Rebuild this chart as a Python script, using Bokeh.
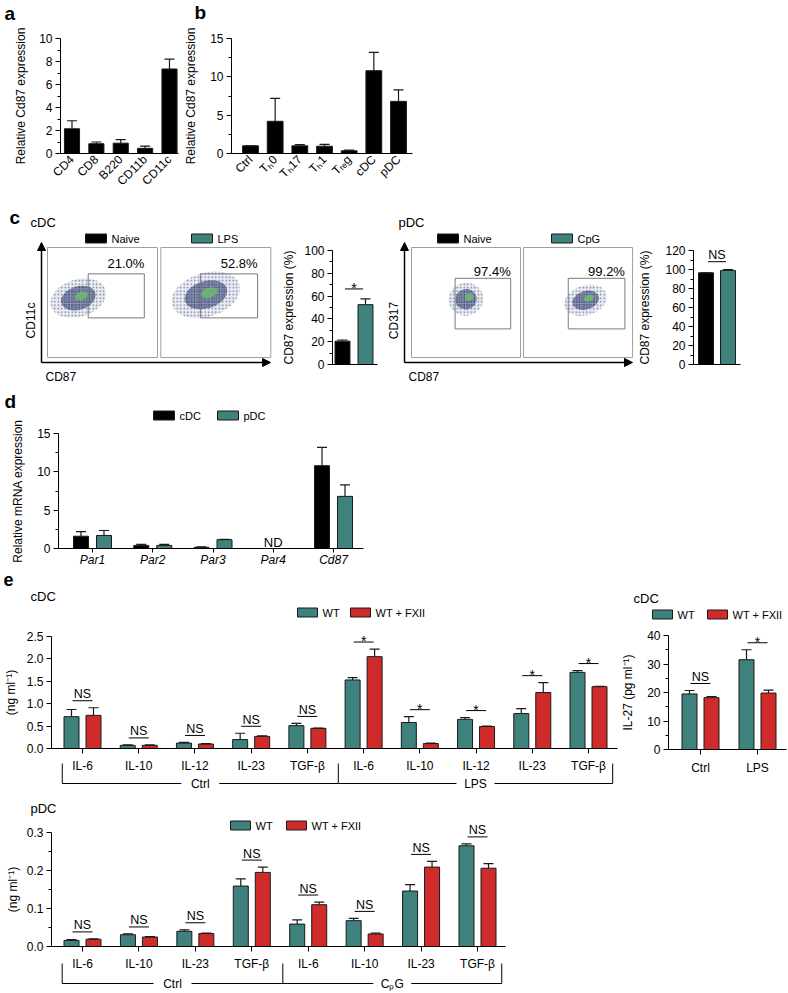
import math
from bokeh.plotting import figure
from bokeh.models import (Range1d, FixedTicker, Arrow, NormalHead,
                          NumeralTickFormatter)
from bokeh.layouts import row, column
from bokeh.embed import file_html
from bokeh.resources import INLINE
from bokeh.core.properties import value

FONT = "Liberation Sans"
TEAL = "#3f817d"
RED = "#d02b2b"
BLACK = "#000000"
EDGE = "#1a1a1a"
NAN = float("nan")

# ---------------- data ----------------
# panel a
a_cats = ["CD4", "CD8", "B220", "CD11b", "CD11c"]
a_vals = [2.15, 0.85, 0.9, 0.45, 7.35]
a_errs = [0.7, 0.15, 0.3, 0.2, 0.85]
a_yticks = [0, 2, 4, 6, 8, 10]
a_yminor = [1, 3, 5, 7, 9]

# panel b
b_cats = ["Ctrl", "Tₕ0", "Tₕ17", "Tₕ1", "Tᵣₑg", "cDC", "pDC"]
b_vals = [1.0, 4.2, 1.0, 0.95, 0.35, 10.8, 6.8]
b_errs = [0.0, 3.0, 0.15, 0.25, 0.1, 2.4, 1.5]
b_yticks = [0, 5, 10, 15]
b_yminor = [2.5, 7.5, 12.5]

# panel c (flow plots, schematic in relative units 0..1 per plot)
c_cdc_groups = ["Naive", "LPS"]
c_cdc_offsets = [0.0, 1.03]
c_cdc_pct = ["21.0%", "52.8%"]
c_cdc_gate_l = [0.37, 0.36]
c_cdc_gate_r = [0.88, 0.88]
c_cdc_gate_b = [0.36, 0.36]
c_cdc_gate_t = [0.76, 0.76]
c_cdc_cloud_x = [0.28, 0.41]
c_cdc_cloud_y = [0.54, 0.57]
c_cdc_cloud_w = [0.52, 0.64]
c_cdc_cloud_h = [0.34, 0.40]
c_cdc_bar = [20.5, 52.5]
c_cdc_err = [1.0, 5.0]
c_cdc_sig = "*"

c_pdc_groups = ["Naive", "CpG"]
c_pdc_offsets = [0.0, 1.028]
c_pdc_pct = ["97.4%", "99.2%"]
c_pdc_gate_l = [0.40, 0.41]
c_pdc_gate_r = [0.91, 0.93]
c_pdc_gate_b = [0.26, 0.26]
c_pdc_gate_t = [0.72, 0.72]
c_pdc_cloud_x = [0.50, 0.57]
c_pdc_cloud_y = [0.53, 0.52]
c_pdc_cloud_w = [0.32, 0.40]
c_pdc_cloud_h = [0.30, 0.27]
c_pdc_bar = [96.5, 99.0]
c_pdc_err = [0.0, 0.8]
c_pdc_sig = "NS"

c_yticks_cdc = [0, 20, 40, 60, 80, 100]
c_yminor_cdc = [10, 30, 50, 70, 90]
c_yticks_pdc = [0, 20, 40, 60, 80, 100, 120]
c_yminor_pdc = [10, 30, 50, 70, 90, 110]

# panel d
d_cats = ["Par1", "Par2", "Par3", "Par4", "Cd87"]
d_series = ["cDC", "pDC"]
d_cdc = [1.6, 0.4, 0.15, NAN, 10.8]
d_cdc_err = [0.6, 0.15, 0.08, NAN, 2.4]
d_pdc = [1.7, 0.4, 1.15, NAN, 6.8]
d_pdc_err = [0.65, 0.15, 0.05, NAN, 1.5]
d_yticks = [0, 5, 10, 15]
d_yminor = [2.5, 7.5, 12.5]

# panel e (cDC)
e_series = ["WT", "WT + FXII"]
e_cdc_cats = ["IL-6", "IL-10", "IL-12", "IL-23", "TGF-β",
              "IL-6", "IL-10", "IL-12", "IL-23", "TGF-β"]
e_cdc_groups = ["Ctrl", "LPS"]
e_cdc_wt = [0.71, 0.07, 0.12, 0.20, 0.51, 1.53, 0.58, 0.65, 0.78, 1.70]
e_cdc_wt_err = [0.16, 0.01, 0.015, 0.14, 0.05, 0.05, 0.13, 0.04, 0.11, 0.04]
e_cdc_fx = [0.74, 0.07, 0.10, 0.27, 0.45, 2.05, 0.11, 0.49, 1.25, 1.38]
e_cdc_fx_err = [0.17, 0.01, 0.01, 0.015, 0.005, 0.17, 0.01, 0.01, 0.22, 0.01]
e_cdc_sig = ["NS", "NS", "NS", "NS", "NS", "*", "*", "*", "*", "*"]
e_cdc_yticks = [0, 0.5, 1.0, 1.5, 2.0, 2.5]

# panel e (IL-27)
e_il27_cats = ["Ctrl", "LPS"]
e_il27_wt = [19.5, 31.5]
e_il27_wt_err = [1.2, 3.5]
e_il27_fx = [18.2, 19.8]
e_il27_fx_err = [0.4, 1.0]
e_il27_sig = ["NS", "*"]
e_il27_yticks = [0, 10, 20, 30, 40]
e_il27_yminor = [5, 15, 25, 35]

# panel e (pDC)
e_pdc_cats = ["IL-6", "IL-10", "IL-23", "TGF-β", "IL-6", "IL-10", "IL-23", "TGF-β"]
e_pdc_groups = ["Ctrl", "CₚG"]
e_pdc_wt = [0.016, 0.031, 0.040, 0.159, 0.059, 0.068, 0.146, 0.265]
e_pdc_wt_err = [0.002, 0.002, 0.004, 0.019, 0.011, 0.006, 0.017, 0.005]
e_pdc_fx = [0.019, 0.025, 0.034, 0.195, 0.110, 0.033, 0.209, 0.206]
e_pdc_fx_err = [0.001, 0.001, 0.001, 0.014, 0.007, 0.002, 0.015, 0.012]
e_pdc_sig = ["NS"] * 8
e_pdc_yticks = [0, 0.1, 0.2, 0.3]
e_pdc_yminor = [0.05, 0.15, 0.25]


# ---------------- helpers ----------------
class Panel:
    """A figure covering an image-pixel box; data ranges calibrated from two
    (value, pixel) pairs per axis so that the whole figure is the frame."""

    def __init__(self, x0, x1, y0, y1, xa, xb, ya, yb):
        self.x0, self.x1, self.y0, self.y1 = x0, x1, y0, y1
        (vxa, pxa), (vxb, pxb) = xa, xb
        (vya, pya), (vyb, pyb) = ya, yb
        self.vxa, self.pxa, self.sx = vxa, pxa, (pxb - pxa) / (vxb - vxa)
        self.vya, self.pya, self.sy = vya, pya, (pyb - pya) / (vyb - vya)
        p = figure(width=x1 - x0, height=y1 - y0,
                   x_range=Range1d(self.vx(x0), self.vx(x1)),
                   y_range=Range1d(self.vy(y1), self.vy(y0)),
                   output_backend="svg", toolbar_location=None, min_border=0)
        p.outline_line_color = None
        p.grid.visible = False
        p.xaxis.visible = False
        p.yaxis.visible = False
        p.background_fill_color = "white"
        p.border_fill_color = "white"
        self.p = p

    def vx(self, px):
        return self.vxa + (px - self.pxa) / self.sx

    def vy(self, py):
        return self.vya + (py - self.pya) / self.sy

    def dx(self, d):
        return d / self.sx

    def dy(self, d):
        return -d / self.sy


def style_axis(ax, label_standoff=3, axis_label_standoff=6):
    ax.visible = True
    ax.axis_line_color = "black"
    ax.axis_line_width = 1
    ax.major_tick_line_color = "black"
    ax.major_tick_in = 0
    ax.major_tick_out = 5
    ax.minor_tick_line_color = "black"
    ax.minor_tick_in = 0
    ax.minor_tick_out = 3
    ax.major_label_text_font = FONT
    ax.major_label_text_font_size = "12px"
    ax.major_label_text_color = "black"
    ax.major_label_standoff = label_standoff
    ax.axis_label_text_font = FONT
    ax.axis_label_text_font_size = "12px"
    ax.axis_label_text_font_style = "normal"
    ax.axis_label_text_color = "black"
    ax.axis_label_standoff = axis_label_standoff


def y_axis(P, axis_px, ticks, minor, label, fmt=None, ax_standoff=6):
    ax = P.p.yaxis[0]
    style_axis(ax, 3, ax_standoff)
    ax.fixed_location = P.vx(axis_px)
    ax.bounds = (ticks[0], ticks[-1])
    ax.ticker = FixedTicker(ticks=ticks, minor_ticks=minor)
    if fmt:
        ax.formatter = NumeralTickFormatter(format=fmt)
    ax.axis_label = label


def x_axis(P, ticks, labels, left_px, right_px, tick_out=5, standoff=5,
           orient=None, italic=False):
    ax = P.p.xaxis[0]
    style_axis(ax, standoff)
    ax.fixed_location = 0
    ax.bounds = (P.vx(left_px), P.vx(right_px))
    ax.ticker = FixedTicker(ticks=ticks, minor_ticks=[])
    ax.major_label_overrides = {t: l for t, l in zip(ticks, labels)}
    ax.major_tick_out = tick_out
    if orient is not None:
        ax.major_label_orientation = orient
    if italic:
        ax.major_label_text_font_style = "italic"


def bars(P, xs, tops, errs, color, width, cap_px=5):
    keep = [i for i, t in enumerate(tops) if not math.isnan(t)]
    cols = color if isinstance(color, list) else [color] * len(tops)
    xs = [xs[i] for i in keep]
    tops = [tops[i] for i in keep]
    errs = [errs[i] for i in keep]
    cols = [cols[i] for i in keep]
    P.p.vbar(x=xs, top=tops, bottom=0, width=width, fill_color=cols,
             line_color=EDGE, line_width=1)
    ups = [t + e for t, e in zip(tops, errs)]
    P.p.segment(x0=xs, y0=tops, x1=xs, y1=ups, line_color=EDGE, line_width=1.2)
    cw = P.dx(cap_px)
    P.p.segment(x0=[x - cw for x in xs], y0=ups, x1=[x + cw for x in xs],
                y1=ups, line_color=EDGE, line_width=1.2)


def sig_marks(P, centers, heights, labels, gap_px=7, half_px=10):
    ly = [h + P.dy(gap_px) for h in heights]
    hw = P.dx(half_px)
    P.p.segment(x0=[c - hw for c in centers], y0=ly, x1=[c + hw for c in centers],
                y1=ly, line_color="black", line_width=1)
    ns = [i for i, l in enumerate(labels) if l != "*"]
    st = [i for i, l in enumerate(labels) if l == "*"]
    if ns:
        P.p.text(x=[centers[i] for i in ns], y=[ly[i] + P.dy(6.5) for i in ns],
                 text=[labels[i] for i in ns], text_font=value(FONT),
                 text_font_size="12.5px", text_align="center",
                 text_baseline="middle", text_color="black")
    if st:
        P.p.text(x=[centers[i] for i in st], y=[ly[i] + P.dy(1) for i in st],
                 text=[labels[i] for i in st], text_font=value(FONT),
                 text_font_size="14px", text_align="center",
                 text_baseline="middle", text_color="black")


def legend(P, labels, colors, lefts_px, cy_px, gw=20, gh=9, size="11px", standoff=5):
    P.p.quad(left=[P.vx(l) for l in lefts_px], right=[P.vx(l + gw) for l in lefts_px],
             bottom=[P.vy(cy_px + gh / 2)] * len(lefts_px),
             top=[P.vy(cy_px - gh / 2)] * len(lefts_px),
             fill_color=colors, line_color=EDGE, line_width=1)
    P.p.text(x=[P.vx(l + gw + standoff) for l in lefts_px], y=[P.vy(cy_px)] * len(lefts_px),
             text=labels, text_font=value(FONT), text_font_size=size,
             text_align="left", text_baseline="middle", text_color="black")


def txt(P, px, py, s, size="12px", align="left", baseline="middle",
        style="normal", angle=0):
    P.p.text(x=[P.vx(px)], y=[P.vy(py)], text=[s], text_font=value(FONT),
             text_font_size=size, text_align=align, text_baseline=baseline,
             text_font_style=style, angle=angle, text_color="black")


def brackets(P, groups, firsts, lasts, top_px, bot_px, half_gap_px=19):
    edges = [firsts[0] - 0.36]
    for i in range(len(groups) - 1):
        edges.append((lasts[i] + firsts[i + 1]) / 2 + 0.05)
    edges.append(lasts[-1] + 0.43)
    yt, yb = P.vy(top_px), P.vy(bot_px)
    P.p.segment(x0=edges, y0=[yt] * len(edges), x1=edges, y1=[yb] * len(edges),
                line_color="black", line_width=1)
    mids = [(edges[i] + edges[i + 1]) / 2 for i in range(len(groups))]
    g = P.dx(half_gap_px)
    hx0, hx1 = [], []
    for i in range(len(groups)):
        hx0 += [edges[i], mids[i] + g]
        hx1 += [mids[i] - g, edges[i + 1]]
    P.p.segment(x0=hx0, y0=[yb] * len(hx0), x1=hx1, y1=[yb] * len(hx0),
                line_color="black", line_width=1)
    P.p.text(x=mids, y=[yb] * len(mids), text=groups, text_font=value(FONT),
             text_font_size="12px", text_align="center", text_baseline="middle",
             text_color="black")


def flow(P, offsets, gl, gr, gb, gt, pct, cx, cy, cw, ch, pct_px):
    n = len(offsets)
    P.p.quad(left=offsets, right=[o + 1 for o in offsets], bottom=[0] * n,
             top=[1] * n, fill_color=None, line_color="#a0a0a0", line_width=1)
    xs = [o + c for o, c in zip(offsets, cx)]
    P.p.ellipse(x=xs, y=cy, width=cw, height=ch, angle=0.3,
                fill_color="#d4d7e2", fill_alpha=0.45, line_color=None,
                hatch_pattern="dot", hatch_color="#56608c", hatch_scale=3.5,
                hatch_weight=1, hatch_alpha=0.8)
    P.p.ellipse(x=xs, y=cy, width=[w * 0.62 for w in cw],
                height=[h * 0.62 for h in ch], angle=0.3,
                fill_color="#3c4b80", fill_alpha=0.55, line_color=None,
                hatch_pattern="dot", hatch_color="#1d2752", hatch_scale=2.5,
                hatch_weight=1, hatch_alpha=0.9)
    P.p.ellipse(x=[x + 0.03 for x in xs], y=[y + 0.02 for y in cy],
                width=[w * 0.24 for w in cw], height=[h * 0.22 for h in ch],
                angle=0.3, fill_color="#6cbf6c", fill_alpha=0.8, line_color=None)
    P.p.quad(left=[o + v for o, v in zip(offsets, gl)],
             right=[o + v for o, v in zip(offsets, gr)], bottom=gb, top=gt,
             fill_color=None, line_color="#7a7a7a", line_width=1)
    P.p.text(x=[o + v for o, v in zip(offsets, gr)],
             y=[t + P.dy(pct_px) for t in gt], text=pct, text_font=value(FONT),
             text_font_size="13px", text_align="right",
             text_baseline="middle", text_color="black")


def axes_arrows(P, ox_px, oy_px, xend_px, yend_px):
    head = dict(size=8, line_color="black", fill_color="black")
    P.p.add_layout(Arrow(end=NormalHead(**head), x_start=P.vx(ox_px),
                         y_start=P.vy(oy_px), x_end=P.vx(xend_px),
                         y_end=P.vy(oy_px), line_width=1.5, line_color="black"))
    P.p.add_layout(Arrow(end=NormalHead(**head), x_start=P.vx(ox_px),
                         y_start=P.vy(oy_px), x_end=P.vx(ox_px),
                         y_end=P.vy(yend_px), line_width=1.5, line_color="black"))


LETTER = dict(size="19px", style="bold")

# ---------------- panel a ----------------
A = Panel(0, 180, 0, 198, (0, 71.5), (4, 169), (0, 153), (10, 38))
ax_idx = list(range(len(a_cats)))
bars(A, ax_idx, a_vals, a_errs, BLACK, 0.62)
y_axis(A, 60, a_yticks, a_yminor, "Relative Cd87 expression", ax_standoff=8)
x_axis(A, ax_idx, a_cats, 60, 178, tick_out=0, standoff=4, orient=math.pi / 4)
txt(A, 4, 13, "a", **LETTER)

# ---------------- panel b ----------------
B = Panel(180, 430, 0, 198, (0, 250), (6, 398), (0, 153), (15, 38))
bx_idx = list(range(len(b_cats)))
bars(B, bx_idx, b_vals, b_errs, BLACK, 0.64)
y_axis(B, 231, b_yticks, b_yminor, "Relative Cd87 expression", ax_standoff=9)
x_axis(B, bx_idx, b_cats, 231, 412, tick_out=0, standoff=4, orient=math.pi / 4)
txt(B, 194, 12, "b", **LETTER)

# ---------------- panel c : cDC flow ----------------
C1 = Panel(0, 278, 198, 390, (0, 47), (1, 157), (0, 357), (1, 247))
flow(C1, c_cdc_offsets, c_cdc_gate_l, c_cdc_gate_r, c_cdc_gate_b, c_cdc_gate_t,
     c_cdc_pct, c_cdc_cloud_x, c_cdc_cloud_y, c_cdc_cloud_w, c_cdc_cloud_h, 10)
axes_arrows(C1, 41, 362, 270, 242)
txt(C1, 9, 217, "c", **LETTER)
txt(C1, 30, 222, "cDC", size="13px")
txt(C1, 45, 376, "CD87", size="12px")
txt(C1, 30, 320, "CD11c", size="12px", align="center", angle=math.pi / 2)
legend(C1, c_cdc_groups, [BLACK, TEAL], [85, 191], 238, gw=21)

# ---------------- panel c : cDC bar ----------------
C2 = Panel(278, 385, 198, 390, (0, 342), (1, 365), (0, 364), (100, 250))
bars(C2, [0, 1], c_cdc_bar, c_cdc_err, [BLACK, TEAL], 0.65)
y_axis(C2, 332, c_yticks_cdc, c_yminor_cdc, "CD87 expression (%)", ax_standoff=5)
x_axis(C2, [], [], 332, 377)
sig_marks(C2, [0.5], [max(v + e for v, e in zip(c_cdc_bar, c_cdc_err))],
          [c_cdc_sig], gap_px=10, half_px=9)

# ---------------- panel c : pDC flow ----------------
C3 = Panel(385, 635, 198, 390, (0, 411), (1, 520), (0, 357), (1, 247))
flow(C3, c_pdc_offsets, c_pdc_gate_l, c_pdc_gate_r, c_pdc_gate_b, c_pdc_gate_t,
     c_pdc_pct, c_pdc_cloud_x, c_pdc_cloud_y, c_pdc_cloud_w, c_pdc_cloud_h, 6.5)
axes_arrows(C3, 404, 362, 632, 242)
txt(C3, 398, 222, "pDC", size="13px")
txt(C3, 408, 376, "CD87", size="12px")
txt(C3, 393, 320, "CD317", size="12px", align="center", angle=math.pi / 2)
legend(C3, c_pdc_groups, [BLACK, TEAL], [437, 551], 238, gw=21)

# ---------------- panel c : pDC bar ----------------
C4 = Panel(635, 787, 198, 390, (0, 705.5), (1, 727.5), (0, 364), (120, 250))
bars(C4, [0, 1], c_pdc_bar, c_pdc_err, [BLACK, TEAL], 0.68)
y_axis(C4, 693, c_yticks_pdc, c_yminor_pdc, "CD87 expression (%)", ax_standoff=10)
x_axis(C4, [], [], 693, 740)
sig_marks(C4, [0.5], [max(v + e for v, e in zip(c_pdc_bar, c_pdc_err))],
          [c_pdc_sig], gap_px=8, half_px=9)

# ---------------- panel d ----------------
D = Panel(0, 380, 390, 566, (0, 92), (4, 333), (0, 548), (15, 433))
dx_idx = list(range(len(d_cats)))
off = D.dx(11.5)
bars(D, [i - off for i in dx_idx], d_cdc, d_cdc_err, BLACK, D.dx(15))
bars(D, [i + off for i in dx_idx], d_pdc, d_pdc_err, TEAL, D.dx(15))
y_axis(D, 58, d_yticks, d_yminor, "Relative mRNA expression", ax_standoff=9)
x_axis(D, dx_idx, d_cats, 58, 363, tick_out=4, standoff=0, italic=True)
nd = [i for i, v in enumerate(d_cdc) if math.isnan(v)]
D.p.text(x=nd, y=[D.dy(6.5)] * len(nd), text=["ND"] * len(nd), text_font=value(FONT),
         text_font_size="13px", text_align="center", text_baseline="middle",
         text_color="black")
txt(D, 4, 401, "d", **LETTER)
legend(D, d_series, [BLACK, TEAL], [153, 217], 415, gw=21)

# ---------------- panel e : cDC cytokines ----------------
E1 = Panel(0, 620, 566, 795, (0, 82), (9, 588), (0, 748), (2.5, 636))
ex = list(range(len(e_cdc_cats)))
off = E1.dx(11)
bars(E1, [i - off for i in ex], e_cdc_wt, e_cdc_wt_err, TEAL, E1.dx(15))
bars(E1, [i + off for i in ex], e_cdc_fx, e_cdc_fx_err, RED, E1.dx(15))
y_axis(E1, 51, e_cdc_yticks, [], "(ng ml⁻¹)", fmt="0.0", ax_standoff=6)
x_axis(E1, ex, e_cdc_cats, 51, 617, tick_out=5, standoff=5)
sig_marks(E1, ex, [max(a + b, c + d) for a, b, c, d in
                   zip(e_cdc_wt, e_cdc_wt_err, e_cdc_fx, e_cdc_fx_err)], e_cdc_sig)
brackets(E1, e_cdc_groups, [0, 5], [4, 9], 763, 783)
txt(E1, 3, 579, "e", size="18px", style="bold")
txt(E1, 30, 596, "cDC", size="13px")
legend(E1, e_series, [TEAL, RED], [297, 350], 612, gw=20)

# ---------------- panel e : IL-27 ----------------
E2 = Panel(620, 787, 566, 795, (0, 700), (1, 757), (0, 749), (40, 635))
e2x = list(range(len(e_il27_cats)))
off = E2.dx(11)
bars(E2, [i - off for i in e2x], e_il27_wt, e_il27_wt_err, TEAL, E2.dx(15))
bars(E2, [i + off for i in e2x], e_il27_fx, e_il27_fx_err, RED, E2.dx(15))
y_axis(E2, 668, e_il27_yticks, e_il27_yminor, "IL-27 (pg ml⁻¹)", ax_standoff=9)
x_axis(E2, e2x, e_il27_cats, 668, 786, tick_out=5, standoff=6)
sig_marks(E2, e2x, [max(a + b, c + d) for a, b, c, d in
                    zip(e_il27_wt, e_il27_wt_err, e_il27_fx, e_il27_fx_err)], e_il27_sig)
txt(E2, 633, 598, "cDC", size="13px")
legend(E2, e_series, [TEAL, RED], [652, 707], 614, gw=20)

# ---------------- panel e : pDC cytokines ----------------
E3 = Panel(0, 520, 795, 992, (0, 82), (7, 477), (0, 946), (0.3, 832))
e3x = list(range(len(e_pdc_cats)))
off = E3.dx(11)
bars(E3, [i - off for i in e3x], e_pdc_wt, e_pdc_wt_err, TEAL, E3.dx(15))
bars(E3, [i + off for i in e3x], e_pdc_fx, e_pdc_fx_err, RED, E3.dx(15))
y_axis(E3, 51, e_pdc_yticks, e_pdc_yminor, "(ng ml⁻¹)", fmt="0.0", ax_standoff=4)
x_axis(E3, e3x, e_pdc_cats, 51, 505, tick_out=5, standoff=5)
sig_marks(E3, e3x, [max(a + b, c + d) for a, b, c, d in
                    zip(e_pdc_wt, e_pdc_wt_err, e_pdc_fx, e_pdc_fx_err)], e_pdc_sig)
brackets(E3, e_pdc_groups, [0, 4], [3, 7], 963, 983)
txt(E3, 30, 808, "pDC", size="13px")
legend(E3, e_series, [TEAL, RED], [230, 286], 825, gw=20)

layout = column(
    row(A.p, B.p),
    row(C1.p, C2.p, C3.p, C4.p),
    row(D.p),
    row(E1.p, E2.p),
    row(E3.p),
)

open("out.html", "w").write(file_html(layout, INLINE))
